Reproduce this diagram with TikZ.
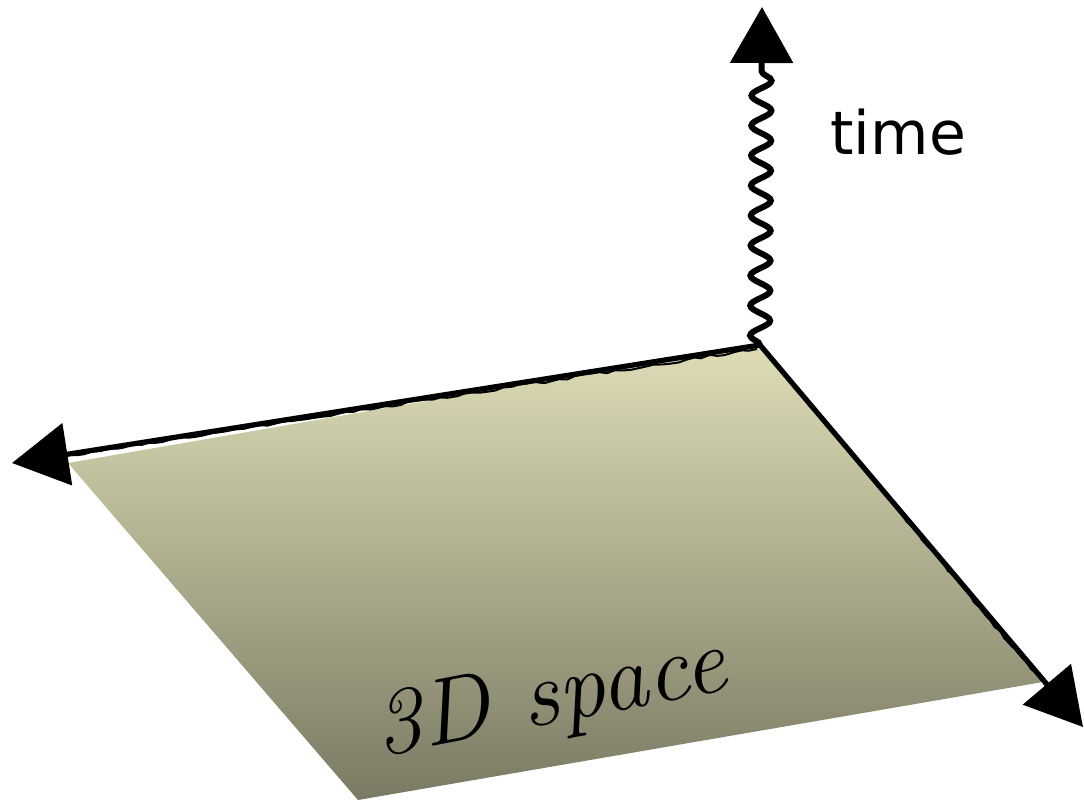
\documentclass[tikz,border=0pt]{standalone}
\usepackage{fontspec}
\newfontfamily\timefont{DejaVu Sans}
\usetikzlibrary{arrows.meta,decorations.pathmorphing}
\definecolor{planetop}{RGB}{222,221,182}
\definecolor{planebot}{RGB}{122,122,100}
\tikzset{
  axis/.style={line width=2.6pt, draw=black, line cap=round,
    -{Triangle[length=28pt,width=31pt]}},
  rough/.style={line width=1pt, draw=black,
    decorate, decoration={random steps, segment length=4pt, amplitude=0.7pt}},
  wavy/.style={line width=3pt, draw=black,
    decorate, decoration={snake, amplitude=5pt, segment length=15pt, post length=30pt}},
  label/.style={inner sep=0pt, text=black}
}
\begin{document}
\begin{tikzpicture}[x=0.5pt,y=-0.5pt]
\useasboundingbox (0,0) rectangle (1084,802);
% plane corners
\coordinate (PT) at (762,343);
\coordinate (PL) at (68,463);
\coordinate (PB) at (358,800);
\coordinate (PR) at (1043,682);
\shade[top color=planetop, bottom color=planebot] (PT) -- (PL) -- (PB) -- (PR) -- cycle;
% axes
\coordinate (O) at (760,345);
\coordinate (X) at (12,463);
\coordinate (Y) at (1083,727);
\coordinate (T) at (762,7);
\coordinate (XB) at (70,455);
\coordinate (YB) at (1045,685);
\coordinate (O2) at (757,349);
\coordinate (O3) at (764,350);
\draw[axis] (O) -- (X);
\draw[axis] (O) -- (Y);
\draw[rough] (O2) -- (XB);
\draw[rough] (O3) -- (YB);
\draw[wavy, -{Triangle[length=28pt,width=31pt]}] (O) -- (T);
% labels
\node[label, anchor=base west, font=\timefont\fontsize{30}{36}\selectfont] (time) at (830,155) {time};
\node[label, anchor=base west, rotate=11, font=\itshape\addfontfeature{LetterSpace=4}\fontsize{47}{54}\selectfont] (space) at (380,757) {3D space};
\end{tikzpicture}
\end{document}
